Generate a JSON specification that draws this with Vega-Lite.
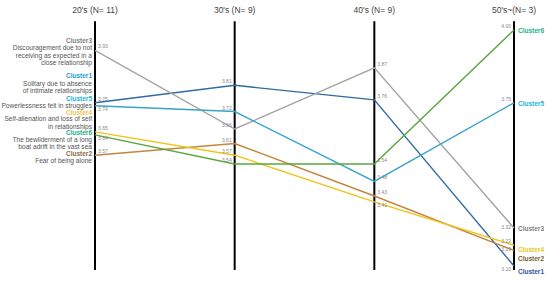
{
  "$schema": "https://vega.github.io/schema/vega-lite/v6.json",
  "width": 550,
  "height": 283,
  "autosize": "none",
  "padding": 0,
  "background": "white",
  "config": {"view": {"stroke": null}, "axis": {"disable": true}, "text": {"font": "Liberation Sans, Arial, sans-serif"}},
  "datasets": {
    "lines": [
      {"decade": "20's", "cluster": "Cluster1", "value": 3.75},
      {"decade": "30's", "cluster": "Cluster1", "value": 3.81},
      {"decade": "40's", "cluster": "Cluster1", "value": 3.76},
      {"decade": "50's~", "cluster": "Cluster1", "value": 3.10},
      {"decade": "20's", "cluster": "Cluster2", "value": 3.57},
      {"decade": "30's", "cluster": "Cluster2", "value": 3.61},
      {"decade": "40's", "cluster": "Cluster2", "value": 3.43},
      {"decade": "50's~", "cluster": "Cluster2", "value": 3.19},
      {"decade": "20's", "cluster": "Cluster3", "value": 3.93},
      {"decade": "30's", "cluster": "Cluster3", "value": 3.66},
      {"decade": "40's", "cluster": "Cluster3", "value": 3.87},
      {"decade": "50's~", "cluster": "Cluster3", "value": 3.32},
      {"decade": "20's", "cluster": "Cluster4", "value": 3.65},
      {"decade": "30's", "cluster": "Cluster4", "value": 3.57},
      {"decade": "40's", "cluster": "Cluster4", "value": 3.41},
      {"decade": "50's~", "cluster": "Cluster4", "value": 3.22},
      {"decade": "20's", "cluster": "Cluster5", "value": 3.74},
      {"decade": "30's", "cluster": "Cluster5", "value": 3.72},
      {"decade": "40's", "cluster": "Cluster5", "value": 3.48},
      {"decade": "50's~", "cluster": "Cluster5", "value": 3.75},
      {"decade": "20's", "cluster": "Cluster6", "value": 3.64},
      {"decade": "30's", "cluster": "Cluster6", "value": 3.54},
      {"decade": "40's", "cluster": "Cluster6", "value": 3.54},
      {"decade": "50's~", "cluster": "Cluster6", "value": 4.00}
    ],
    "descs": [
      {"cluster": "Cluster1", "desc": "Solitary due  to absence\nof intimate relationships"},
      {"cluster": "Cluster2", "desc": "Fear of being alone"},
      {"cluster": "Cluster3", "desc": "Discouragement due to not\nreceiving as expected  in a\nclose relationship"},
      {"cluster": "Cluster4", "desc": "Self-alienation and loss of self\nin relationships"},
      {"cluster": "Cluster5", "desc": "Powerlessness felt in struggles"},
      {"cluster": "Cluster6", "desc": "The bewilderment of a long\nboat adrift in the vast sea"}
    ],
    "headers": [
      {"decade": "20's", "header": "20's (N= 11)"},
      {"decade": "30's", "header": "30's (N= 9)"},
      {"decade": "40's", "header": "40's (N= 9)"},
      {"decade": "50's~", "header": "50's~(N= 3)"}
    ]
  },
  "encoding": {
    "x": {"field": "decade", "type": "ordinal", "scale": {"type": "point", "domain": ["20's", "30's", "40's", "50's~"], "range": [95, 514], "padding": 0}, "axis": null},
    "y": {"type": "quantitative", "scale": {"domain": [3.10, 3.32, 4.00], "range": [266, 228, 30], "zero": false, "nice": false}, "axis": null}
  },
  "layer": [
    {
      "data": {"name": "headers"},
      "mark": {"type": "rule", "color": "#000000", "strokeWidth": 2},
      "encoding": {"y": {"datum": 4.03, "type": "quantitative"}, "y2": {"datum": 3.077}}
    },
    {
      "data": {"name": "headers"},
      "mark": {"type": "text", "align": "center", "baseline": "middle", "fontSize": 8.5, "color": "#444444"},
      "encoding": {"y": {"datum": 4.07, "type": "quantitative"}, "text": {"field": "header"}}
    },
    {
      "data": {"name": "lines"},
      "mark": {"type": "line", "strokeWidth": 1.4},
      "encoding": {
        "y": {"field": "value", "type": "quantitative"},
        "color": {"field": "cluster", "type": "nominal", "legend": null,
          "scale": {"domain": ["Cluster1", "Cluster2", "Cluster3", "Cluster4", "Cluster5", "Cluster6"],
                    "range": ["#2f6aa3", "#c4863e", "#a3a3a3", "#f0c419", "#3ca3c8", "#5aa640"]}},
        "detail": {"field": "cluster"}
      }
    },
    {
      "data": {"name": "lines"},
      "transform": [{"filter": "(datum.decade == \"20's\" || datum.decade == \"40's\") && !((datum.decade == \"20's\" && (datum.cluster == 'Cluster5' || datum.cluster == 'Cluster6')) || (datum.decade == \"40's\" && datum.cluster == 'Cluster4'))"}],
      "mark": {"type": "text", "align": "left", "baseline": "bottom", "dx": 3, "dy": -1, "fontSize": 5, "color": "#888888"},
      "encoding": {"y": {"field": "value", "type": "quantitative"}, "text": {"field": "value", "type": "quantitative", "format": ".2f"}}
    },
    {
      "data": {"name": "lines"},
      "transform": [{"filter": "(datum.decade == \"20's\" && (datum.cluster == 'Cluster5' || datum.cluster == 'Cluster6')) || (datum.decade == \"40's\" && datum.cluster == 'Cluster4')"}],
      "mark": {"type": "text", "align": "left", "baseline": "top", "dx": 3, "dy": 1, "fontSize": 5, "color": "#888888"},
      "encoding": {"y": {"field": "value", "type": "quantitative"}, "text": {"field": "value", "type": "quantitative", "format": ".2f"}}
    },
    {
      "data": {"name": "lines"},
      "transform": [{"filter": "datum.decade == \"30's\" || (datum.decade == \"50's~\" && (datum.cluster == 'Cluster6' || datum.cluster == 'Cluster5' || datum.cluster == 'Cluster4'))"}],
      "mark": {"type": "text", "align": "right", "baseline": "bottom", "dx": -3, "dy": -1, "fontSize": 5, "color": "#888888"},
      "encoding": {"y": {"field": "value", "type": "quantitative"}, "text": {"field": "value", "type": "quantitative", "format": ".2f"}}
    },
    {
      "data": {"name": "lines"},
      "transform": [{"filter": "datum.decade == \"50's~\" && (datum.cluster == 'Cluster3' || datum.cluster == 'Cluster2')"}],
      "mark": {"type": "text", "align": "right", "baseline": "middle", "dx": -3, "dy": -1, "fontSize": 5, "color": "#888888"},
      "encoding": {"y": {"field": "value", "type": "quantitative"}, "text": {"field": "value", "type": "quantitative", "format": ".2f"}}
    },
    {
      "data": {"name": "lines"},
      "transform": [{"filter": "datum.decade == \"50's~\" && datum.cluster == 'Cluster1'"}],
      "mark": {"type": "text", "align": "right", "baseline": "top", "dx": -3, "dy": 1, "fontSize": 5, "color": "#888888"},
      "encoding": {"y": {"field": "value", "type": "quantitative"}, "text": {"field": "value", "type": "quantitative", "format": ".2f"}}
    },
    {"data": {"name": "lines"}, "transform": [{"filter": "datum.decade == \"20's\" && datum.cluster == 'Cluster3'"}],
     "mark": {"type": "text", "align": "right", "baseline": "middle", "dx": -3, "dy": -9, "fontSize": 6.5, "fontWeight": "bold", "color": "#7f7f7f"},
     "encoding": {"y": {"field": "value", "type": "quantitative"}, "text": {"field": "cluster"}}},
    {"data": {"name": "lines"}, "transform": [{"filter": "datum.decade == \"20's\" && datum.cluster == 'Cluster1'"}],
     "mark": {"type": "text", "align": "right", "baseline": "middle", "dx": -3, "dy": -27, "fontSize": 6.5, "fontWeight": "bold", "color": "#1f9ad0"},
     "encoding": {"y": {"field": "value", "type": "quantitative"}, "text": {"field": "cluster"}}},
    {"data": {"name": "lines"}, "transform": [{"filter": "datum.decade == \"20's\" && datum.cluster == 'Cluster5'"}],
     "mark": {"type": "text", "align": "right", "baseline": "middle", "dx": -3, "dy": -7, "fontSize": 6.5, "fontWeight": "bold", "color": "#19b4d8"},
     "encoding": {"y": {"field": "value", "type": "quantitative"}, "text": {"field": "cluster"}}},
    {"data": {"name": "lines"}, "transform": [{"filter": "datum.decade == \"20's\" && datum.cluster == 'Cluster4'"}],
     "mark": {"type": "text", "align": "right", "baseline": "middle", "dx": -3, "dy": -19, "fontSize": 6.5, "fontWeight": "bold", "color": "#f6c34a"},
     "encoding": {"y": {"field": "value", "type": "quantitative"}, "text": {"field": "cluster"}}},
    {"data": {"name": "lines"}, "transform": [{"filter": "datum.decade == \"20's\" && datum.cluster == 'Cluster6'"}],
     "mark": {"type": "text", "align": "right", "baseline": "middle", "dx": -3, "dy": -1.5, "fontSize": 6.5, "fontWeight": "bold", "color": "#19b08a"},
     "encoding": {"y": {"field": "value", "type": "quantitative"}, "text": {"field": "cluster"}}},
    {"data": {"name": "lines"}, "transform": [{"filter": "datum.decade == \"20's\" && datum.cluster == 'Cluster2'"}],
     "mark": {"type": "text", "align": "right", "baseline": "middle", "dx": -3, "dy": -1, "fontSize": 6.5, "fontWeight": "bold", "color": "#8b6b3d"},
     "encoding": {"y": {"field": "value", "type": "quantitative"}, "text": {"field": "cluster"}}},
    {"data": {"name": "lines"}, "transform": [{"filter": "datum.decade == \"20's\" && datum.cluster == 'Cluster3'"}, {"lookup": "cluster", "from": {"data": {"name": "descs"}, "key": "cluster", "fields": ["desc"]}}],
     "mark": {"type": "text", "align": "right", "baseline": "top", "dx": -3, "dy": -5, "fontSize": 6.6, "lineHeight": 7.3, "lineBreak": "\n", "color": "#555555"},
     "encoding": {"y": {"field": "value", "type": "quantitative"}, "text": {"field": "desc"}}},
    {"data": {"name": "lines"}, "transform": [{"filter": "datum.decade == \"20's\" && datum.cluster == 'Cluster1'"}, {"lookup": "cluster", "from": {"data": {"name": "descs"}, "key": "cluster", "fields": ["desc"]}}],
     "mark": {"type": "text", "align": "right", "baseline": "top", "dx": -3, "dy": -22, "fontSize": 6.6, "lineHeight": 7.3, "lineBreak": "\n", "color": "#555555"},
     "encoding": {"y": {"field": "value", "type": "quantitative"}, "text": {"field": "desc"}}},
    {"data": {"name": "lines"}, "transform": [{"filter": "datum.decade == \"20's\" && datum.cluster == 'Cluster5'"}, {"lookup": "cluster", "from": {"data": {"name": "descs"}, "key": "cluster", "fields": ["desc"]}}],
     "mark": {"type": "text", "align": "right", "baseline": "top", "dx": -3, "dy": -3, "fontSize": 6.6, "lineHeight": 7.3, "lineBreak": "\n", "color": "#555555"},
     "encoding": {"y": {"field": "value", "type": "quantitative"}, "text": {"field": "desc"}}},
    {"data": {"name": "lines"}, "transform": [{"filter": "datum.decade == \"20's\" && datum.cluster == 'Cluster4'"}, {"lookup": "cluster", "from": {"data": {"name": "descs"}, "key": "cluster", "fields": ["desc"]}}],
     "mark": {"type": "text", "align": "right", "baseline": "top", "dx": -3, "dy": -15.5, "fontSize": 6.6, "lineHeight": 7.3, "lineBreak": "\n", "color": "#555555"},
     "encoding": {"y": {"field": "value", "type": "quantitative"}, "text": {"field": "desc"}}},
    {"data": {"name": "lines"}, "transform": [{"filter": "datum.decade == \"20's\" && datum.cluster == 'Cluster6'"}, {"lookup": "cluster", "from": {"data": {"name": "descs"}, "key": "cluster", "fields": ["desc"]}}],
     "mark": {"type": "text", "align": "right", "baseline": "top", "dx": -3, "dy": 2, "fontSize": 6.6, "lineHeight": 7.3, "lineBreak": "\n", "color": "#555555"},
     "encoding": {"y": {"field": "value", "type": "quantitative"}, "text": {"field": "desc"}}},
    {"data": {"name": "lines"}, "transform": [{"filter": "datum.decade == \"20's\" && datum.cluster == 'Cluster2'"}, {"lookup": "cluster", "from": {"data": {"name": "descs"}, "key": "cluster", "fields": ["desc"]}}],
     "mark": {"type": "text", "align": "right", "baseline": "top", "dx": -3, "dy": 2.5, "fontSize": 6.6, "lineHeight": 7.3, "lineBreak": "\n", "color": "#555555"},
     "encoding": {"y": {"field": "value", "type": "quantitative"}, "text": {"field": "desc"}}},
    {"data": {"name": "lines"}, "transform": [{"filter": "datum.decade == \"50's~\" && datum.cluster == 'Cluster6'"}],
     "mark": {"type": "text", "align": "left", "baseline": "middle", "dx": 4, "dy": 1, "fontSize": 6.5, "fontWeight": "bold", "color": "#19b08a"},
     "encoding": {"y": {"field": "value", "type": "quantitative"}, "text": {"field": "cluster"}}},
    {"data": {"name": "lines"}, "transform": [{"filter": "datum.decade == \"50's~\" && datum.cluster == 'Cluster5'"}],
     "mark": {"type": "text", "align": "left", "baseline": "middle", "dx": 4, "dy": 1, "fontSize": 6.5, "fontWeight": "bold", "color": "#19b4d8"},
     "encoding": {"y": {"field": "value", "type": "quantitative"}, "text": {"field": "cluster"}}},
    {"data": {"name": "lines"}, "transform": [{"filter": "datum.decade == \"50's~\" && datum.cluster == 'Cluster3'"}],
     "mark": {"type": "text", "align": "left", "baseline": "middle", "dx": 4, "dy": 1, "fontSize": 6.5, "fontWeight": "bold", "color": "#7f7f7f"},
     "encoding": {"y": {"field": "value", "type": "quantitative"}, "text": {"field": "cluster"}}},
    {"data": {"name": "lines"}, "transform": [{"filter": "datum.decade == \"50's~\" && datum.cluster == 'Cluster4'"}],
     "mark": {"type": "text", "align": "left", "baseline": "middle", "dx": 4, "dy": 5, "fontSize": 6.5, "fontWeight": "bold", "color": "#e6c619"},
     "encoding": {"y": {"field": "value", "type": "quantitative"}, "text": {"field": "cluster"}}},
    {"data": {"name": "lines"}, "transform": [{"filter": "datum.decade == \"50's~\" && datum.cluster == 'Cluster2'"}],
     "mark": {"type": "text", "align": "left", "baseline": "middle", "dx": 4, "dy": 9, "fontSize": 6.5, "fontWeight": "bold", "color": "#7a5c35"},
     "encoding": {"y": {"field": "value", "type": "quantitative"}, "text": {"field": "cluster"}}},
    {"data": {"name": "lines"}, "transform": [{"filter": "datum.decade == \"50's~\" && datum.cluster == 'Cluster1'"}],
     "mark": {"type": "text", "align": "left", "baseline": "middle", "dx": 4, "dy": 6, "fontSize": 6.5, "fontWeight": "bold", "color": "#2f4f9f"},
     "encoding": {"y": {"field": "value", "type": "quantitative"}, "text": {"field": "cluster"}}}
  ]
}
